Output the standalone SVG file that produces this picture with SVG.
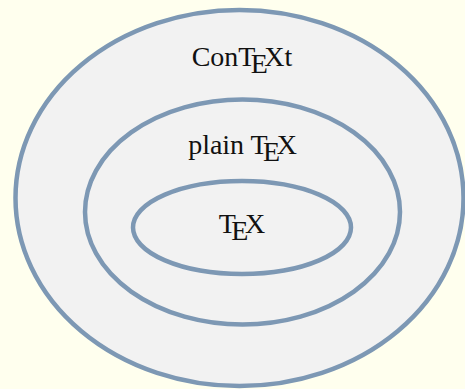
<svg xmlns="http://www.w3.org/2000/svg" width="465" height="389" viewBox="0 0 465 389">
<style>
.set{fill:#f2f2f2;stroke:#7d98b4;stroke-width:4.5}
.lbl{font-family:"Liberation Serif",serif;font-size:28px;fill:#111;text-anchor:middle}
</style>
<rect width="465" height="389" fill="#ffffee"/>
<g id="context">
<ellipse class="set" cx="239.5" cy="198" rx="224" ry="188"/>
<text class="lbl" x="242" y="66">Con<tspan>T</tspan><tspan dx="-4.7" dy="6.5">E</tspan><tspan dx="-3.5" dy="-6.5">X</tspan>t</text>
</g>
<g id="plaintex">
<ellipse class="set" cx="242.5" cy="212" rx="157.5" ry="112.5"/>
<text class="lbl" x="242.5" y="154">plain T<tspan dx="-4.7" dy="6.5">E</tspan><tspan dx="-3.5" dy="-6.5">X</tspan></text>
</g>
<g id="tex">
<ellipse class="set" cx="242" cy="227.5" rx="109" ry="46.5"/>
<text class="lbl" x="242" y="233">T<tspan dx="-4.7" dy="6.5">E</tspan><tspan dx="-3.5" dy="-6.5">X</tspan></text>
</g>
<g id="connectors"/>
</svg>
